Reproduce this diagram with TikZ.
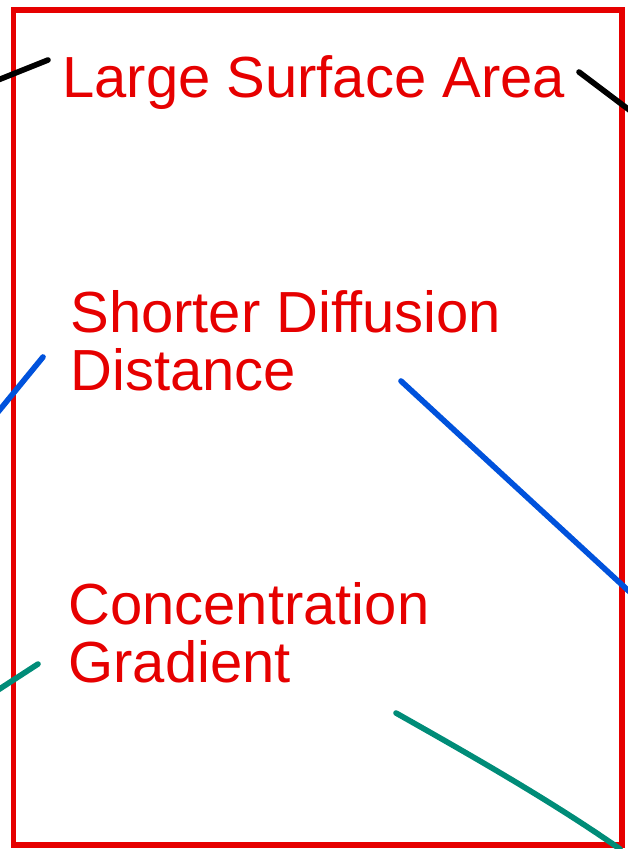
\documentclass[tikz,border=0pt]{standalone}
\usepackage{fontspec}
\setmainfont{Liberation Sans}
\usetikzlibrary{positioning}
\definecolor{boxred}{RGB}{230,0,0}
\definecolor{lineblue}{RGB}{0,82,220}
\definecolor{lineteal}{RGB}{0,140,120}

\begin{document}
\begin{tikzpicture}[x=0.02cm, y=-0.02cm,
    label/.style={text=boxred, inner sep=0pt, align=left, anchor=base west,
        font=\fontsize{33}{33}\selectfont},
    stroke/.style={line width=3.2pt, line cap=round}]
                \useasboundingbox (0,0) rectangle (628,849);
                \draw[boxred, line width=3.4pt] (13.5,10) rectangle (622,845);
                \node[label] (area) at (62,97) {Large Surface Area};
                \node[label] (dist) at (70,390) {Shorter Diffusion\\Distance};
                \node[label] (grad) at (68,682) {Concentration\\Gradient};
                \coordinate (a1) at (-2,80);   \coordinate (a2) at (48,60);
                \coordinate (a3) at (579,72);  \coordinate (a4) at (632,112);
                \coordinate (d1) at (-2,412);  \coordinate (d2) at (43,357);
                \coordinate (d3) at (401,381); \coordinate (d4) at (632,594);
                \coordinate (g1) at (-2,690);  \coordinate (g2) at (38,664);
                \coordinate (g3) at (396,713); \coordinate (g4) at (620,849);
                \draw[stroke, black] (a1) -- (a2);
                \draw[stroke, black] (a3) -- (a4);
                \draw[stroke, lineblue] (d1) -- (d2);
                \draw[stroke, lineblue] (d3) -- (d4);
                \draw[stroke, lineteal] (g1) -- (g2);
                \draw[stroke, lineteal] (g3) .. controls (465,752) and (550,800) .. (g4);
            \end{tikzpicture}
\end{document}
